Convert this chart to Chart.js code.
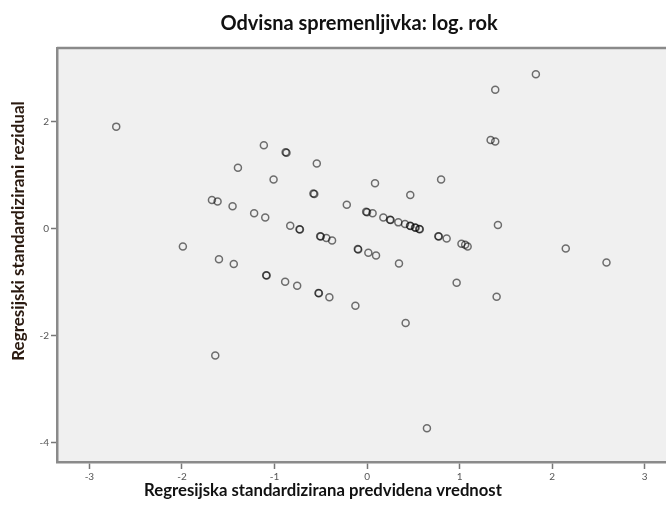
<!DOCTYPE html>
<html>
<head>
<meta charset="utf-8">
<script src="https://cdn.jsdelivr.net/npm/chart.js@4"></script>
<style>
  html, body { margin: 0; padding: 0; background: #fff; overflow: hidden; }
  #wrap { width: 666px; height: 519px; position: relative; }
</style>
</head>
<body>
<div id="wrap"><canvas id="plot"></canvas></div>
<script>
// --- data ---
const chartTitle = 'Odvisna spremenljivka: log. rok';
const xTitle = 'Regresijska standardizirana predvidena vrednost';
const yTitle = 'Regresijski standardizirani rezidual';

// standardized predicted value
const predicted = [
  -2.71, -1.395, -1.676, -1.615, -1.453, -1.115, -0.88, -0.87, -0.543, -1.01,
  0.086, 0.80, -0.58, -0.57, 0.467, -0.219, -1.22, -1.10, -0.01, 0.00,
  0.06, 0.176, 0.248, 0.255, 0.338, 0.41, 0.464, 0.47, 0.518, 0.525,
  0.564, 0.57, -0.83, -0.73, -0.725, -0.507, -0.50, -0.44, -0.378, -0.10,
  -0.095, 0.014, 0.097, 0.345, 0.77, 0.775, 0.86, 1.02, 1.06, 1.087,
  2.147, 2.587, 0.968, 1.40, 1.824, 1.385, 1.335, 1.385, 1.414, -1.44,
  -1.09, -1.085, -0.885, -0.755, -0.525, -0.52, -0.407, -0.126, 0.417, 0.647,
  -1.99, -1.60, -1.64
];
// standardized residual
const residual = [
  1.91, 1.14, 0.54, 0.51, 0.42, 1.56, 1.43, 1.42, 1.22, 0.92,
  0.85, 0.92, 0.66, 0.65, 0.63, 0.45, 0.29, 0.21, 0.32, 0.31,
  0.29, 0.21, 0.17, 0.165, 0.12, 0.09, 0.056, 0.05, 0.024, 0.02,
  -0.006, -0.01, 0.056, -0.01, -0.015, -0.14, -0.145, -0.17, -0.22, -0.38,
  -0.385, -0.45, -0.50, -0.65, -0.14, -0.145, -0.18, -0.28, -0.30, -0.33,
  -0.37, -0.63, -1.01, -1.27, 2.89, 2.60, 1.66, 1.63, 0.07, -0.66,
  -0.87, -0.875, -0.99, -1.065, -1.20, -1.205, -1.28, -1.44, -1.76, -3.73,
  -0.33, -0.57, -2.37
];

const xRange = [-3.35, 3.23];
const yRange = [-4.36, 3.38];

const points = predicted.map((x, i) => ({ x, y: residual[i] }));

const frame = {
  id: 'frame',
  beforeDraw(chart) {
    const { ctx, chartArea: a } = chart;
    ctx.save();
    ctx.fillStyle = '#f0f0f0';
    ctx.fillRect(a.left, a.top, a.right - a.left, a.bottom - a.top);
    ctx.strokeStyle = '#8a8a8a';
    ctx.lineWidth = 2.5;
    ctx.beginPath();
    ctx.moveTo(a.left, a.top);
    ctx.lineTo(a.right, a.top);
    ctx.stroke();
    ctx.restore();
  },
  afterDraw(chart) {
    const { ctx } = chart;
    ctx.save();
    ctx.fillStyle = '#111';
    ctx.textAlign = 'center';
    ctx.textBaseline = 'middle';
    ctx.font = 'bold 20px Lato';
    ctx.fillText(chartTitle, 359, 24);
    ctx.font = 'bold 16.7px Lato';
    ctx.fillText(xTitle, 323, 491);
    ctx.translate(19, 231);
    ctx.rotate(-Math.PI / 2);
    ctx.fillStyle = '#2a1a10';
    ctx.font = 'bold 17px Lato';
    ctx.fillText(yTitle, 0, 0);
    ctx.restore();
  }
};

new Chart(document.getElementById('plot'), {
  type: 'scatter',
  data: {
    datasets: [{
      data: points,
      pointStyle: 'circle',
      pointRadius: 3.5,
      pointHoverRadius: 3.5,
      pointBorderWidth: 1.5,
      pointBorderColor: 'rgba(0,0,0,0.55)',
      pointBackgroundColor: 'rgba(0,0,0,0)'
    }]
  },
  options: {
    responsive: true,
    maintainAspectRatio: false,
    animation: false,
    layout: { autoPadding: false, padding: { top: 48, left: 0, right: 0, bottom: 27 } },
    plugins: { legend: { display: false }, tooltip: { enabled: false } },
    scales: {
      x: {
        type: 'linear',
        min: xRange[0], max: xRange[1],
        afterFit: s => { s.height = 30; },
        border: { color: '#8a8a8a', width: 2.5 },
        grid: { drawOnChartArea: false, drawTicks: true, tickLength: 7, tickColor: '#777', tickWidth: 1.5 },
        ticks: { stepSize: 1, includeBounds: false, color: '#555', font: { family: 'Lato', size: 10 }, padding: 2, maxRotation: 0 }
      },
      y: {
        type: 'linear',
        min: yRange[0], max: yRange[1],
        afterFit: s => { s.width = 57; },
        border: { color: '#8a8a8a', width: 2.5 },
        grid: { drawOnChartArea: false, drawTicks: true, tickLength: 6, tickColor: '#777', tickWidth: 1.5 },
        ticks: { stepSize: 2, includeBounds: false, color: '#555', font: { family: 'Lato', size: 10 }, padding: 2 }
      }
    }
  },
  plugins: [frame]
});
</script>
</body>
</html>
